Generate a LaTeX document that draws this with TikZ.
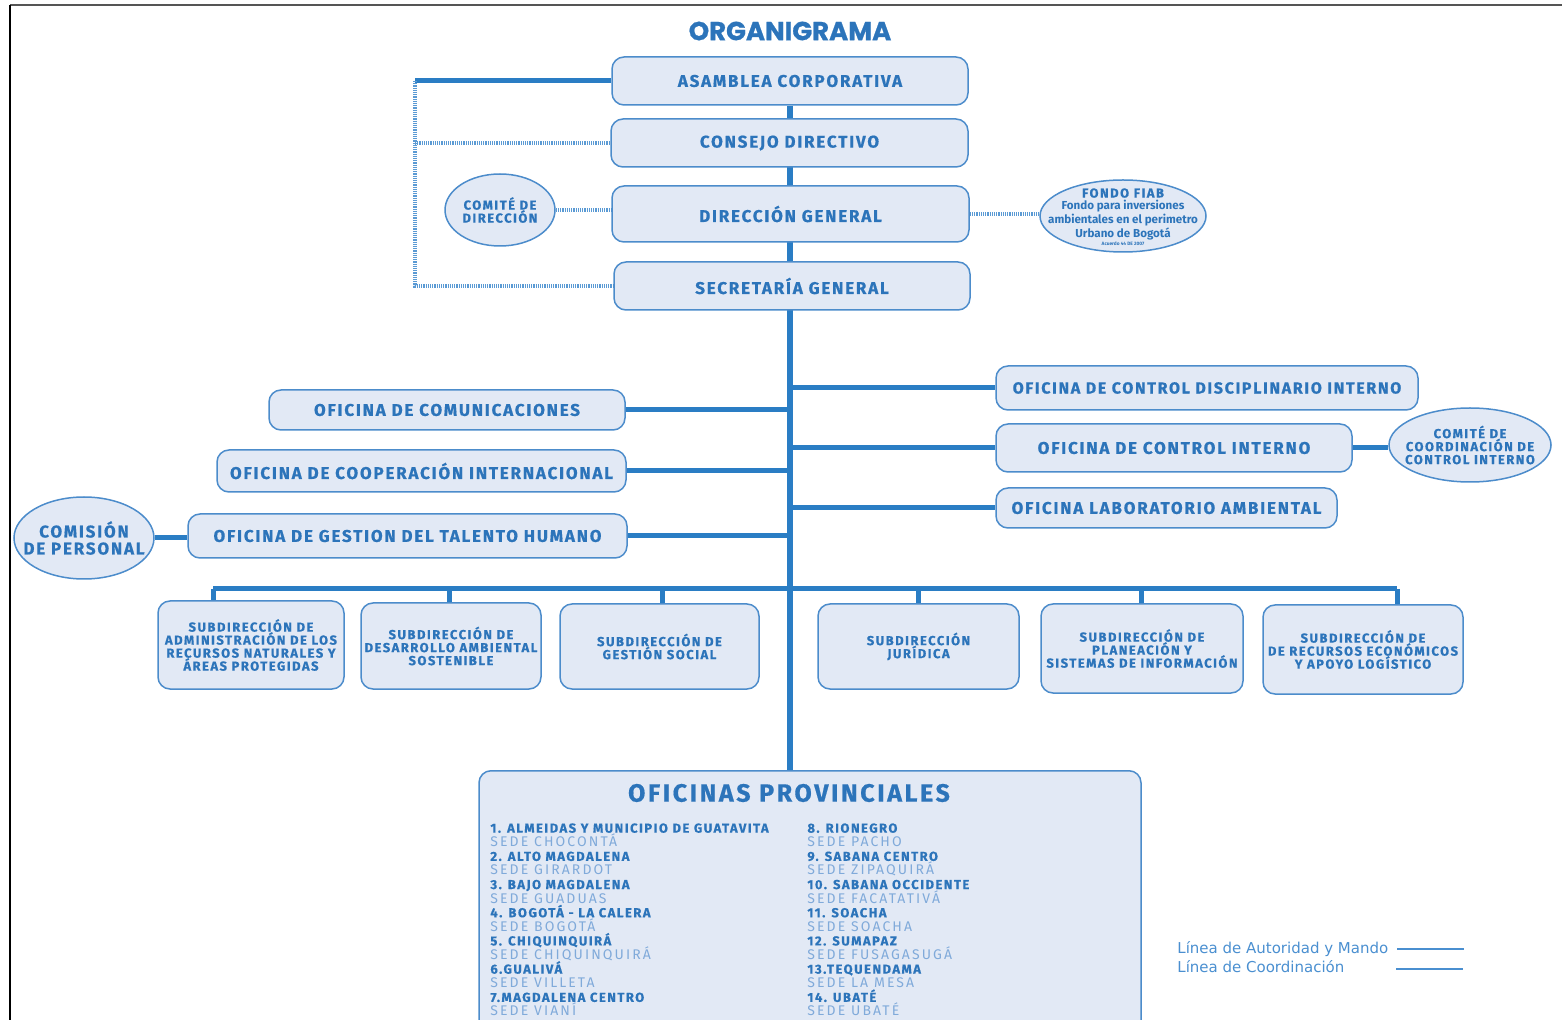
\documentclass[tikz,border=0pt]{standalone}
\usepackage{fontspec}
\setmainfont{Fira Sans}
\newfontfamily\bxf[LetterSpace=10.5,FakeBold=0.6]{Fira Sans}
\newfontfamily\smf[LetterSpace=11.5,FakeBold=0.5]{Fira Sans}
\newfontfamily\sedef[LetterSpace=15]{Fira Sans}
\newfontfamily\ttlf[FakeBold=0.8]{Poppins}
\newfontfamily\legf{DejaVu Sans}
\usetikzlibrary{shapes.geometric,backgrounds}
\definecolor{lineblue}{HTML}{2A7DC4}
\definecolor{dotblue}{HTML}{5A9AD4}
\definecolor{boxfill}{HTML}{E2E9F5}
\definecolor{boxdraw}{HTML}{4C8CCB}
\definecolor{txtblue}{HTML}{2C74BA}
\definecolor{sedeblue}{HTML}{80AADA}
\definecolor{legblue}{HTML}{4A8FD0}
\definecolor{frameg}{HTML}{555555}
\newcommand\tightls{\lineskiplimit=-10pt\relax}
\newcommand\hd[1]{{\smf\bfseries #1}}
\newcommand\sd[1]{{\sedef\fontsize{7}{7.05}\selectfont\color{sedeblue}#1}}
\begin{document}
\begin{tikzpicture}[x=0.5pt,y=-0.5pt,
  box/.style={draw=boxdraw, fill=boxfill, line width=0.75pt, rounded corners=6pt, inner sep=0pt, align=center, text=txtblue},
  sz/.style 2 args={minimum width={#1*0.5pt}, minimum height={#2*0.5pt}},
  ell/.style={ellipse, draw=boxdraw, fill=boxfill, line width=0.75pt, inner sep=0pt},
  lbl/.style={inner sep=0pt, align=center, text=txtblue},
  big/.style={font=\bxf\bfseries\fontsize{8.5}{10}\selectfont},
  mid/.style={font=\bxf\bfseries\fontsize{8}{10}\selectfont},
  small/.style={font=\smf\bfseries\fontsize{6.5}{6.5}\selectfont},
  listcol/.style={anchor=north west, inner sep=0pt, align=left, text=txtblue, font=\fontsize{6.5}{7.05}\selectfont\tightls},
  auth/.style={draw=lineblue, line width=2.5pt},
  trunkline/.style={draw=lineblue, line width=3pt},
  coordline/.style={draw=dotblue, line width=1.8pt, dash pattern=on 0.6pt off 0.5pt},
  legline/.style={draw=legblue, line width=0.7pt},
]
\useasboundingbox (0,0) rectangle (1562,1020);
% frame
\draw[frameg, line width=1pt] (10,5) -- (1562,5);
\draw[black, line width=1pt] (10,5) -- (10,1020);

% title
\node[text=txtblue, font=\ttlf\bfseries\fontsize{13}{15}\selectfont] (title) at (790,31) {ORGANIGRAMA};

% top column
\node[box,sz={356}{48},big] (asam) at (790,81) {ASAMBLEA CORPORATIVA};
\node[box,sz={357}{48},big] (cons) at (789.5,143) {CONSEJO DIRECTIVO};
\node[box,sz={357}{56},big] (dir) at (790.5,214) {DIRECCIÓN GENERAL};
\node[box,sz={356}{48},big] (sec) at (792,286) {SECRETARÍA GENERAL};

\node[ell,sz={110}{72}] (cdir) at (500,210) {};
\node[lbl,small] (cdirt) at (cdir.center) {COMITÉ DE\\DIRECCIÓN};
\node[ell,sz={166}{72}] (fiab) at (1123,216) {};
\node[lbl,font=\bfseries\fontsize{5.8}{5.8}\selectfont] (fiabt) at (1123,217) {%
  {\smf\bfseries\fontsize{6.5}{6.5}\selectfont FONDO FIAB}\\[0.3pt]
  Fondo para inversiones\\
  ambientales en el perimetro\\
  Urbano de Bogotá\\[-2pt]
  {\fontsize{2.4}{2.5}\selectfont Acuerdo 44 DE 2007}};

% right offices
\node[box,sz={422}{44},mid] (cdi) at (1207,388) {OFICINA DE CONTROL DISCIPLINARIO INTERNO};
\node[box,sz={356}{48},big] (ci) at (1174,448) {OFICINA DE CONTROL INTERNO};
\node[box,sz={341}{40},big] (lab) at (1166.5,508) {OFICINA LABORATORIO AMBIENTAL};
\node[ell,sz={162}{74}] (cci) at (1470,445) {};
\node[lbl,small] (ccit) at (cci.center) {COMITÉ DE\\COORDINACIÓN DE\\CONTROL INTERNO};

% left offices
\node[box,sz={356}{40},big] (com) at (447,410) {OFICINA DE COMUNICACIONES};
\node[box,sz={409}{42},big] (coop) at (421.5,471) {OFICINA DE COOPERACIÓN INTERNACIONAL};
\node[box,sz={439}{44},big] (tal) at (407.5,536) {OFICINA DE GESTION DEL TALENTO HUMANO};
\node[ell,sz={140}{82}] (cp) at (84,538) {};
\node[lbl,font=\bxf\bfseries\fontsize{8.5}{8.5}\selectfont] (cpt) at (cp.center) {COMISIÓN\\DE PERSONAL};

% subdirecciones
\node[box,sz={186}{88},small] (s1) at (251,645) {SUBDIRECCIÓN DE\\ADMINISTRACIÓN DE LOS\\RECURSOS NATURALES Y\\ÁREAS PROTEGIDAS};
\node[box,sz={180}{86},small] (s2) at (451,646) {SUBDIRECCIÓN DE\\DESARROLLO AMBIENTAL\\SOSTENIBLE};
\node[box,sz={199}{85},small] (s3) at (659.5,646.5) {SUBDIRECCIÓN DE\\GESTIÓN SOCIAL};
\node[box,sz={201}{85},small] (s4) at (918.5,646.5) {SUBDIRECCIÓN\\JURÍDICA};
\node[box,sz={202}{89},small] (s5) at (1142,648.5) {SUBDIRECCIÓN DE\\PLANEACIÓN Y\\SISTEMAS DE INFORMACIÓN};
\node[box,sz={200}{89},small] (s6) at (1363,649.5) {SUBDIRECCIÓN DE\\DE RECURSOS ECONÓMICOS\\Y APOYO LOGÍSTICO};

% oficinas provinciales
\node[box,sz={662}{290},anchor=north] (prov) at (810,770) {};
\node[text=txtblue, inner sep=0pt, font=\bxf\bfseries\fontsize{12.5}{14}\selectfont] (provt) at (789,793) {OFICINAS PROVINCIALES};
\node[listcol] (colL) at (490,823) {%
\hd{1. ALMEIDAS Y MUNICIPIO DE GUATAVITA}\\
\sd{SEDE CHOCONTÁ}\\
\hd{2. ALTO MAGDALENA}\\
\sd{SEDE GIRARDOT}\\
\hd{3. BAJO MAGDALENA}\\
\sd{SEDE GUADUAS}\\
\hd{4. BOGOTÁ - LA CALERA}\\
\sd{SEDE BOGOTÁ}\\
\hd{5. CHIQUINQUIRÁ}\\
\sd{SEDE CHIQUINQUIRÁ}\\
\hd{6.GUALIVÁ}\\
\sd{SEDE VILLETA}\\
\hd{7.MAGDALENA CENTRO}\\
\sd{SEDE VIANÍ}};
\node[listcol] (colR) at (807,823) {%
\hd{8. RIONEGRO}\\
\sd{SEDE PACHO}\\
\hd{9. SABANA CENTRO}\\
\sd{SEDE ZIPAQUIRÁ}\\
\hd{10. SABANA OCCIDENTE}\\
\sd{SEDE FACATATIVÁ}\\
\hd{11. SOACHA}\\
\sd{SEDE SOACHA}\\
\hd{12. SUMAPAZ}\\
\sd{SEDE FUSAGASUGÁ}\\
\hd{13.TEQUENDAMA}\\
\sd{SEDE LA MESA}\\
\hd{14. UBATÉ}\\
\sd{SEDE UBATÉ}};

% legend
\node[anchor=west, inner sep=0pt, text=legblue, font=\legf\fontsize{7.5}{8}\selectfont] (leg1) at (1177,949) {Línea de Autoridad y Mando};
\node[anchor=west, inner sep=0pt, text=legblue, font=\legf\fontsize{7.5}{8}\selectfont] (leg2) at (1177,967) {Línea de Coordinación};
\coordinate (la1) at (1397,949);
\coordinate (lb1) at (1464,949);
\coordinate (la2) at (1396,969);
\coordinate (lb2) at (1463,969);
\draw[legline] (la1) -- (lb1);
\draw[legline] (la2) -- (lb2);

% connectors
\coordinate (cl) at (415,81);
\coordinate (busL) at (213,589);
\coordinate (busR) at (1397,589);
\coordinate (d2) at (449,589);
\coordinate (d3) at (662,589);
\coordinate (d4) at (918,589);
\coordinate (d5) at (1141,589);
\begin{scope}[on background layer]
  \draw[trunkline] (asam.south) -- (asam.south |- prov.north);
  \draw[auth] (asam.west) -- (cl);
  \draw[coordline] (cl) -- (cl |- sec.west) -- (sec.west);
  \draw[coordline] (cl |- cons.west) -- (cons.west);
  \draw[coordline] (cdir.east) -- (cdir.east -| dir.west);
  \draw[coordline] (dir.east) -- (dir.east -| fiab.west);
  \draw[auth] (cdi.west -| asam.south) -- (cdi.west);
  \draw[auth] (ci.west -| asam.south) -- (ci.west);
  \draw[auth] (lab.west -| asam.south) -- (lab.west);
  \draw[auth] (ci.east) -- (ci.east -| cci.west);
  \draw[auth] (com.east) -- (com.east -| asam.south);
  \draw[auth] (coop.east) -- (coop.east -| asam.south);
  \draw[auth] (tal.east) -- (tal.east -| asam.south);
  \draw[auth] (cp.east) -- (cp.east -| tal.west);
  \draw[auth] (busL) -- (busR);
  \draw[auth] (busL) -- (busL |- s1.north);
  \draw[auth] (d2) -- (d2 |- s2.north);
  \draw[auth] (d3) -- (d3 |- s3.north);
  \draw[auth] (d4) -- (d4 |- s4.north);
  \draw[auth] (d5) -- (d5 |- s5.north);
  \draw[auth] (busR) -- (busR |- s6.north);
\end{scope}
\end{tikzpicture}
\end{document}
